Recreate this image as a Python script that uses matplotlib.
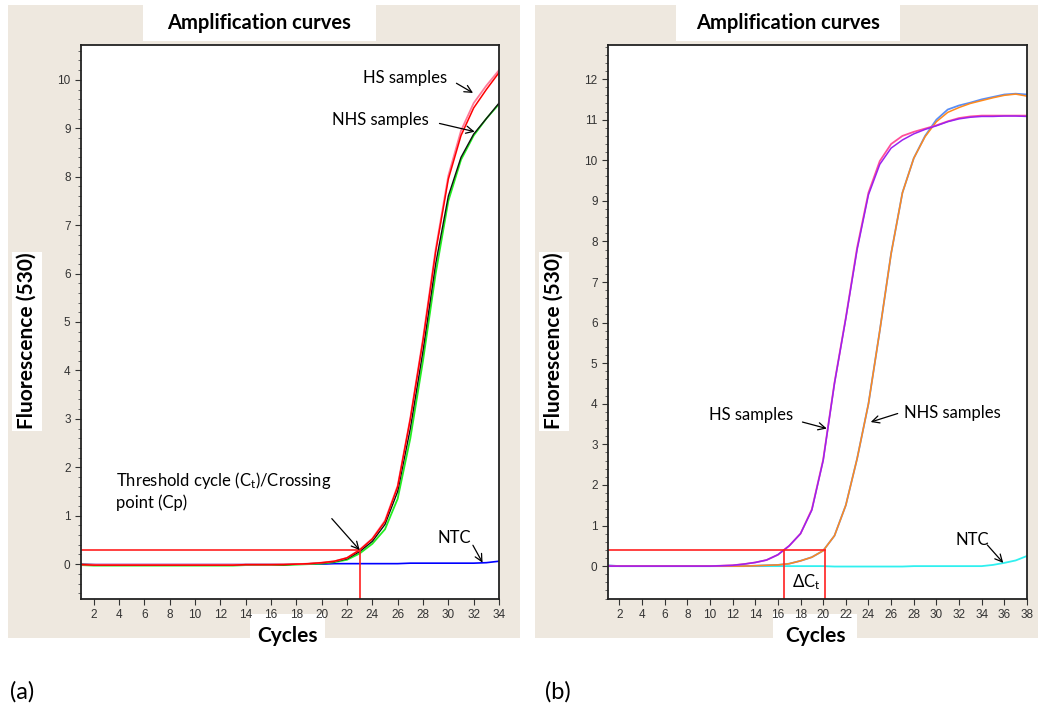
import matplotlib
matplotlib.use("Agg")
import matplotlib.pyplot as plt
from matplotlib.patches import Rectangle
from matplotlib.ticker import MultipleLocator
import numpy as np

plt.rcParams['font.family'] = ['Lato', 'DejaVu Sans']
plt.rcParams['mathtext.fontset'] = 'custom'
plt.rcParams['mathtext.rm'] = 'Lato'
plt.rcParams['mathtext.it'] = 'Lato:italic'
plt.rcParams['mathtext.bf'] = 'Lato:bold'

# ---------------- data, panel (a) ----------------
cyc_a = np.arange(1, 35)
hs_red = [-0.01, -0.02, -0.02, -0.02, -0.02, -0.02, -0.02, -0.02, -0.02, -0.02,
          -0.02, -0.02, -0.02, -0.01, -0.01, -0.01, -0.01, 0.0, 0.01, 0.03,
          0.06, 0.13, 0.29, 0.52, 0.88, 1.6, 3.0, 4.62, 6.45, 7.95,
          8.85, 9.42, 9.8, 10.15]
hs_pink = [-0.01, -0.01, -0.01, -0.01, -0.01, -0.01, -0.01, -0.01, -0.01, -0.01,
           -0.01, -0.01, -0.01, -0.01, -0.01, -0.01, 0.0, 0.0, 0.01, 0.03,
           0.06, 0.13, 0.3, 0.53, 0.9, 1.62, 3.02, 4.66, 6.5, 8.02,
           8.95, 9.52, 9.88, 10.2]
nhs_black = [0.0, -0.01, -0.02, -0.02, -0.02, -0.02, -0.02, -0.02, -0.02, -0.02,
             -0.02, -0.02, -0.02, -0.01, -0.01, -0.01, -0.01, 0.0, 0.01, 0.02,
             0.05, 0.11, 0.26, 0.47, 0.82, 1.5, 2.8, 4.4, 6.2, 7.6,
             8.4, 8.88, 9.2, 9.52]
nhs_green = [-0.02, -0.03, -0.03, -0.03, -0.03, -0.03, -0.03, -0.03, -0.03, -0.03,
             -0.03, -0.03, -0.03, -0.02, -0.02, -0.02, -0.02, -0.01, 0.0, 0.01,
             0.04, 0.09, 0.22, 0.42, 0.72, 1.35, 2.6, 4.2, 6.0, 7.5,
             8.35, 8.85, 9.2, 9.5]
ntc_a = [-0.01, -0.01, -0.01, -0.01, -0.01, -0.01, -0.01, -0.01, -0.01, -0.01,
         -0.01, -0.01, -0.01, -0.01, -0.01, -0.01, -0.01, 0.0, 0.0, 0.0,
         0.01, 0.01, 0.01, 0.01, 0.01, 0.01, 0.02, 0.02, 0.02, 0.02,
         0.02, 0.02, 0.03, 0.06]
threshold_a = 0.3
ct_a = 23.0

# ---------------- data, panel (b) ----------------
cyc_b = np.arange(1, 39)
hs_purple = [0.0, 0.0, 0.0, 0.0, 0.0, 0.0, 0.0, 0.0, 0.0, 0.0,
             0.01, 0.02, 0.05, 0.09, 0.15, 0.28, 0.5, 0.8, 1.38, 2.6,
             4.5, 6.1, 7.8, 9.15, 9.9, 10.3, 10.5, 10.65, 10.76, 10.85,
             10.95, 11.02, 11.06, 11.08, 11.08, 11.09, 11.09, 11.08]
hs_magenta = [0.0, 0.0, 0.0, 0.0, 0.0, 0.0, 0.0, 0.0, 0.0, 0.0,
              0.01, 0.02, 0.05, 0.09, 0.15, 0.28, 0.5, 0.8, 1.4, 2.62,
              4.52, 6.12, 7.85, 9.2, 9.98, 10.4, 10.6, 10.7, 10.78, 10.86,
              10.96, 11.04, 11.08, 11.1, 11.1, 11.1, 11.1, 11.1]
nhs_orange = [0.0, 0.0, 0.0, 0.0, 0.0, 0.0, 0.0, 0.0, 0.0, 0.0,
              0.0, 0.0, 0.0, 0.01, 0.02, 0.03, 0.06, 0.13, 0.22, 0.38,
              0.75, 1.5, 2.65, 4.0, 5.8, 7.7, 9.2, 10.05, 10.58, 10.95,
              11.18, 11.3, 11.4, 11.47, 11.54, 11.6, 11.63, 11.58]
nhs_blue = [0.02, 0.0, 0.0, 0.0, 0.0, 0.0, 0.0, 0.0, 0.0, 0.0,
            0.0, 0.0, 0.0, 0.01, 0.02, 0.03, 0.06, 0.13, 0.22, 0.38,
            0.75, 1.5, 2.65, 4.0, 5.8, 7.7, 9.2, 10.05, 10.6, 11.0,
            11.25, 11.35, 11.42, 11.5, 11.56, 11.62, 11.64, 11.62]
ntc_b = [0.0, 0.0, 0.0, 0.0, 0.0, 0.0, 0.0, 0.0, 0.0, 0.0,
         0.0, 0.0, 0.0, 0.0, 0.0, 0.0, 0.0, 0.0, 0.0, 0.0,
         -0.01, -0.01, -0.01, -0.01, -0.01, -0.01, -0.01, 0.0, 0.0, 0.0,
         0.0, 0.0, 0.0, 0.0, 0.03, 0.08, 0.14, 0.25]
threshold_b = 0.39
ct_hs_b = 16.5
ct_nhs_b = 20.2

W, H = 1041, 713
beige = '#EEE8DF'
fig = plt.figure(figsize=(W / 100, H / 100), dpi=100)
fig.patch.set_facecolor('white')


def frac(x0, y0, x1, y1):
    # pixel box (top-left origin) -> figure fraction [l, b, w, h]
    return [x0 / W, 1 - y1 / H, (x1 - x0) / W, (y1 - y0) / H]


def rect(x0, y0, x1, y1, color, z):
    l, b, w, h = frac(x0, y0, x1, y1)
    fig.patches.append(Rectangle((l, b), w, h, transform=fig.transFigure,
                                 facecolor=color, edgecolor='none', zorder=z))


def panel(x0, x1, title_box, cyc_box, ax_box, xmax, ylim, ymax_tick):
    rect(x0, 5, x1, 638, beige, -3)
    rect(*title_box, 'white', -2)
    rect(*cyc_box, 'white', -2)
    rect(x0 + 4, 252, x0 + 34, 431, 'white', -2)
    fig.text((title_box[0] + title_box[2]) / 2 / W, 1 - 23 / H, 'Amplification curves',
             ha='center', va='center', fontsize=14.5, fontweight='bold')
    fig.text((cyc_box[0] + cyc_box[2]) / 2 / W, 1 - 636 / H, 'Cycles',
             ha='center', va='center', fontsize=15, fontweight='bold')
    fig.text((x0 + 19) / W, 1 - 341 / H, 'Fluorescence (530)', rotation=90,
             ha='center', va='center', fontsize=15, fontweight='bold')
    ax = fig.add_axes(frac(*ax_box))
    ax.set_xlim(1, xmax)
    ax.set_ylim(*ylim)
    ax.set_xticks(np.arange(2, xmax + 1, 2))
    ax.set_yticks(np.arange(0, ymax_tick + 1, 1))
    ax.yaxis.set_minor_locator(MultipleLocator(0.2))
    ax.tick_params(axis='both', which='major', direction='out', length=4, width=0.8,
                   labelsize=8.5, labelcolor='#333333', colors='#333333')
    ax.tick_params(axis='y', which='minor', direction='out', length=2.5, width=0.7,
                   colors='#666666')
    for lab in ax.get_xticklabels() + ax.get_yticklabels():
        lab.set_family('Liberation Sans')
    for s in ax.spines.values():
        s.set_linewidth(1.3)
        s.set_color('#222222')
    return ax


arrow = dict(arrowstyle='->', color='black', lw=0.9, shrinkA=0, shrinkB=0,
             mutation_scale=13)

# ---------------- panel (a) ----------------
ax1 = panel(8, 520, (143, 5, 376, 41), (250, 614, 325, 655), (81, 45, 499, 599),
            34, (-0.72, 10.72), 10)
ax1.plot(cyc_a, ntc_a, color='#0000FF', lw=1.2)
ax1.plot(cyc_a, nhs_green, color='#22EE22', lw=1.3)
ax1.plot(cyc_a, nhs_black, color='#111111', lw=1.0)
ax1.plot(cyc_a, hs_pink, color='#FF7A9A', lw=1.3)
ax1.plot(cyc_a, hs_red, color='#FF0000', lw=1.1)
ax1.plot([1, ct_a], [threshold_a, threshold_a], color='#FF2020', lw=1.2)
ax1.plot([ct_a, ct_a], [-0.72, threshold_a], color='#FF2020', lw=1.2)

ax1.text(26.6, 10.04, 'HS samples', ha='center', va='center', fontsize=12)
ax1.annotate('', xy=(31.95, 9.73), xytext=(30.64, 9.93), arrowprops=arrow)
ax1.text(24.6, 9.17, 'NHS samples', ha='center', va='center', fontsize=12)
ax1.annotate('', xy=(32.08, 8.93), xytext=(29.3, 9.1), arrowprops=arrow)
ax1.text(3.8, 1.52, 'Threshold cycle (C$_\\mathrm{t}$)/Crossing\npoint (Cp)',
         ha='left', va='center', fontsize=12, linespacing=1.25)
ax1.annotate('', xy=(23.0, 0.29), xytext=(20.8, 0.94), arrowprops=arrow)
ax1.text(30.5, 0.54, 'NTC', ha='center', va='center', fontsize=12)
ax1.annotate('', xy=(32.7, 0.03), xytext=(31.94, 0.39), arrowprops=arrow)

# ---------------- panel (b) ----------------
ax2 = panel(535, 1038, (676, 5, 900, 41), (773, 614, 857, 655), (608, 45, 1027, 599),
            38, (-0.81, 12.84), 12)
ax2.plot(cyc_b, ntc_b, color='#30F0F0', lw=1.3)
ax2.plot(cyc_b, nhs_blue, color='#5A8EF5', lw=1.3)
ax2.plot(cyc_b, nhs_orange, color='#FF8A1C', lw=1.1)
ax2.plot(cyc_b, hs_magenta, color='#FF4F9A', lw=1.3)
ax2.plot(cyc_b, hs_purple, color='#9A22F0', lw=1.1)
ax2.plot([1, ct_nhs_b], [threshold_b, threshold_b], color='#FF2020', lw=1.2)
ax2.plot([ct_hs_b, ct_hs_b], [-0.81, threshold_b], color='#FF2020', lw=1.2)
ax2.plot([ct_nhs_b, ct_nhs_b], [-0.81, threshold_b], color='#FF2020', lw=1.2)

ax2.text(13.6, 3.72, 'HS samples', ha='center', va='center', fontsize=12)
ax2.annotate('', xy=(20.32, 3.39), xytext=(18.17, 3.55), arrowprops=arrow)
ax2.text(31.4, 3.77, 'NHS samples', ha='center', va='center', fontsize=12)
ax2.annotate('', xy=(24.2, 3.55), xytext=(26.58, 3.76), arrowprops=arrow)
ax2.text(33.2, 0.64, 'NTC', ha='center', va='center', fontsize=12)
ax2.annotate('', xy=(35.9, 0.08), xytext=(34.5, 0.52), arrowprops=arrow)
ax2.text(18.55, -0.39, '$\\Delta$C$_\\mathrm{t}$', ha='center', va='center', fontsize=12)

fig.text(10 / W, 1 - 692 / H, '(a)', ha='left', va='center', fontsize=17)
fig.text(545 / W, 1 - 692 / H, '(b)', ha='left', va='center', fontsize=17)

plt.savefig('out.png', dpi=100)
